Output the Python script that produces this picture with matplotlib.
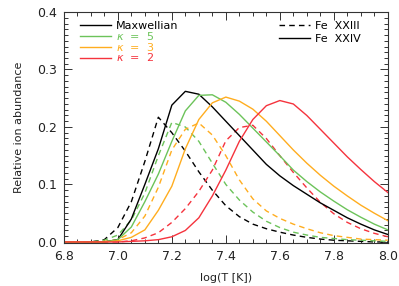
"""
Fe XXIII / Fe XXIV relative ion abundance for Maxwellian and kappa distributions.

Output:
- out.png
"""

import matplotlib
matplotlib.use("Agg")
import matplotlib.pyplot as plt
from matplotlib.lines import Line2D
from matplotlib.ticker import MultipleLocator


OUTPUT_FIGURE = "out.png"

LOG_T = [6.80, 6.85, 6.90, 6.95, 7.00, 7.05, 7.10, 7.15, 7.20, 7.25, 7.30,
         7.35, 7.40, 7.45, 7.50, 7.55, 7.60, 7.65, 7.70, 7.75, 7.80, 7.85,
         7.90, 7.95, 8.00]

# Fe XXIV (solid)
FE24_MAXW = [0.0, 0.0, 0.0, 0.0, 0.004, 0.040, 0.100, 0.162, 0.238, 0.262,
             0.257, 0.235, 0.210, 0.185, 0.160, 0.135, 0.115, 0.098, 0.083,
             0.068, 0.055, 0.042, 0.031, 0.021, 0.013]
FE24_K5 = [0.0, 0.0, 0.0, 0.0, 0.004, 0.026, 0.070, 0.118, 0.175, 0.228,
           0.255, 0.256, 0.243, 0.222, 0.198, 0.174, 0.150, 0.125, 0.105,
           0.087, 0.071, 0.056, 0.043, 0.031, 0.021]
FE24_K3 = [0.0, 0.0, 0.0, 0.0, 0.002, 0.008, 0.021, 0.055, 0.097, 0.162,
           0.213, 0.242, 0.252, 0.245, 0.231, 0.210, 0.185, 0.160, 0.137,
           0.116, 0.097, 0.080, 0.064, 0.050, 0.037]
FE24_K2 = [0.0, 0.0, 0.0, 0.0, 0.0, 0.001, 0.002, 0.004, 0.009, 0.020,
           0.042, 0.080, 0.125, 0.175, 0.213, 0.237, 0.246, 0.240, 0.220,
           0.196, 0.172, 0.148, 0.126, 0.105, 0.086]

# Fe XXIII (dashed)
FE23_MAXW = [0.0, 0.0, 0.0, 0.004, 0.025, 0.070, 0.140, 0.217, 0.190, 0.158,
             0.122, 0.090, 0.063, 0.044, 0.031, 0.023, 0.017, 0.012, 0.008,
             0.005, 0.003, 0.002, 0.001, 0.0, 0.0]
FE23_K5 = [0.0, 0.0, 0.0, 0.003, 0.012, 0.038, 0.085, 0.150, 0.208, 0.200,
           0.175, 0.137, 0.100, 0.073, 0.052, 0.036, 0.025, 0.017, 0.012,
           0.008, 0.006, 0.004, 0.003, 0.002, 0.001]
FE23_K3 = [0.0, 0.0, 0.0, 0.001, 0.004, 0.016, 0.045, 0.095, 0.160, 0.196,
           0.207, 0.186, 0.150, 0.108, 0.075, 0.054, 0.041, 0.031, 0.023,
           0.016, 0.011, 0.008, 0.005, 0.004, 0.003]
FE23_K2 = [0.0, 0.0, 0.0, 0.0, 0.0, 0.002, 0.007, 0.016, 0.034, 0.058,
           0.088, 0.125, 0.176, 0.199, 0.203, 0.180, 0.150, 0.121, 0.094,
           0.069, 0.049, 0.034, 0.023, 0.015, 0.009]

LABELS = ["Maxwellian", r"$\kappa$  =  5", r"$\kappa$  =  3", r"$\kappa$  =  2"]
ION_LABELS = ["Fe  XXIII", "Fe  XXIV"]
COLORS = ["black", "#6cc35a", "#ffad1f", "#f5333d"]


def main():
    plt.rcParams["font.family"] = ["DejaVu Sans"]
    plt.rcParams["mathtext.fontset"] = "dejavusans"

    fig = plt.figure(figsize=(3.99, 2.86), dpi=100)
    ax = fig.add_axes([0.160, 0.150, 0.812, 0.808])

    solid = [FE24_MAXW, FE24_K5, FE24_K3, FE24_K2]
    dashed = [FE23_MAXW, FE23_K5, FE23_K3, FE23_K2]

    for vals, col in zip(dashed, COLORS):
        ax.plot(LOG_T, vals, color=col, lw=1.0, ls=(0, (4, 3)))
    for vals, col in zip(solid, COLORS):
        ax.plot(LOG_T, vals, color=col, lw=1.0)

    ax.set_xlim(6.8, 8.0)
    ax.set_ylim(-0.002, 0.4)
    ax.xaxis.set_major_locator(MultipleLocator(0.2))
    ax.xaxis.set_minor_locator(MultipleLocator(0.05))
    ax.yaxis.set_major_locator(MultipleLocator(0.1))
    ax.yaxis.set_minor_locator(MultipleLocator(0.01))
    ax.xaxis.set_major_formatter(lambda v, p: f"{v:.1f}")
    ax.yaxis.set_major_formatter(lambda v, p: f"{v:.1f}")
    ax.tick_params(which="both", direction="in", top=True, right=True,
                   width=0.7, colors="#333333", labelcolor="#222222",
                   labelsize=9)
    ax.tick_params(which="major", length=6, pad=5)
    ax.tick_params(which="minor", length=3)
    for sp in ax.spines.values():
        sp.set_linewidth(0.8)
        sp.set_color("#333333")

    ax.set_xlabel("log(T [K])", fontsize=8, color="#222222", labelpad=7)
    ax.set_ylabel("Relative ion abundance", fontsize=8, color="#222222",
                  labelpad=9)

    handles = [Line2D([], [], color=c, lw=1.0) for c in COLORS]
    leg1 = ax.legend(handles, LABELS, loc="upper left",
                     bbox_to_anchor=(0.049, 0.962), frameon=False,
                     borderpad=0, borderaxespad=0, handlelength=2.8,
                     handletextpad=0.45, labelspacing=-0.1, fontsize=8)
    for txt, col in zip(leg1.get_texts(), COLORS):
        txt.set_color(col)
    ax.add_artist(leg1)

    ion_handles = [Line2D([], [], color="black", lw=1.0, ls=(0, (4, 3))),
                   Line2D([], [], color="black", lw=1.0)]
    ax.legend(ion_handles, ION_LABELS, loc="upper left",
              bbox_to_anchor=(0.664, 0.962), frameon=False, borderpad=0,
              borderaxespad=0, handlelength=2.8, handletextpad=0.45,
              labelspacing=0.28, fontsize=8)

    fig.savefig(OUTPUT_FIGURE, dpi=100)
    plt.close(fig)
    print("Saved figure:", OUTPUT_FIGURE)


if __name__ == "__main__":
    main()
